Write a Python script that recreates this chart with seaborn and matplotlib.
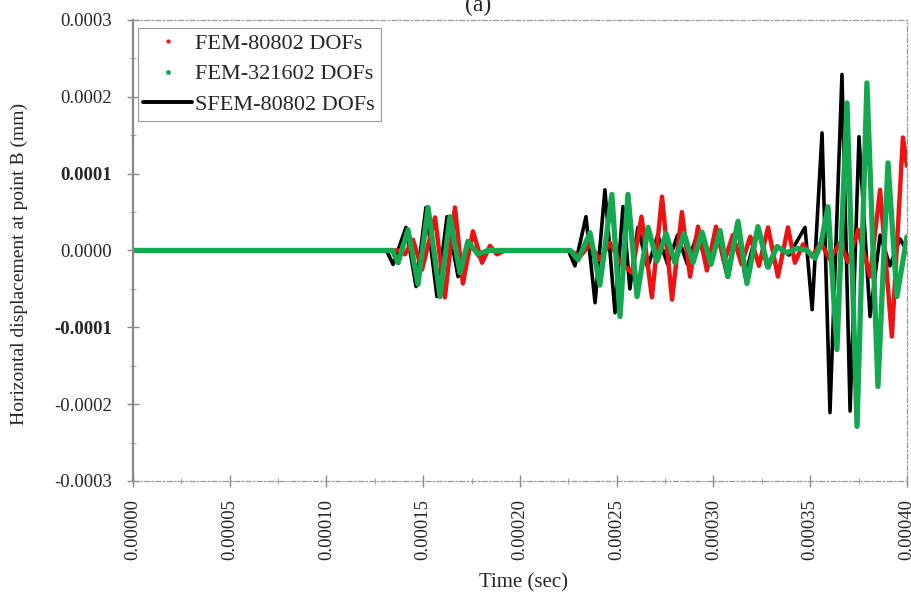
import numpy as np
import pandas as pd
import matplotlib
matplotlib.use("Agg")
import matplotlib.pyplot as plt
from matplotlib.lines import Line2D
from matplotlib.ticker import MultipleLocator
import seaborn as sns

# time in microseconds, displacement in 1e-6 mm
fem80802_t = [0, 138, 140.6, 144.7, 149.4, 156.1, 161.2, 166.4, 170.5, 175.7,
              180.4, 184.5, 188.1, 192.2, 226, 231, 236.2, 241.3, 246.5, 251.7,
              257.9, 262.8, 268.2, 273.4, 278.6, 283.7, 287.9, 292, 296.6, 301.3,
              305.5, 310, 314.5, 319, 323.5, 328.2, 333.3, 338.5, 342.1, 346.3,
              351, 355.5, 360.2, 365.4, 369.5, 374.7, 380.9, 386.1, 392.2, 397.9, 400]
fem80802_u = [0, 0, -5, 14, -25, 43, -61, 56, -43, 25,
              -16, 6, -5, 0, 0, -8, 8, -12, 10, -15,
              -29, 44, -61, 70, -64, 50, -34, 31, -26, 31,
              -15, 20, -18, 18, -20, 30, -34, 30, -16, 8,
              -8, 10, -12, 10, -15, 27, -34, 79, -112, 147, 110]

fem321602_t = [0, 134, 137, 142.1, 147.3, 152.5, 158.7, 163.8, 169, 173.1,
               178.3, 183.5, 226, 230, 236.2, 241.3, 247.5, 251.7, 255.8, 260.5,
               266.2, 270.8, 275.5, 280.1, 284.8, 289.4, 294.1, 298.7, 303.4, 307.5,
               312.7, 317.3, 323, 328.2, 332.8, 338, 343.2, 348.3, 352.5, 355.5,
               359.2, 363.8, 369, 374.2, 379.3, 385, 390.2, 394.8, 400]
fem321602_u = [0, 0, -16, 27, -44, 56, -60, 44, -29, 12,
               -5, 0, 0, -12, 23, -45, 73, -86, 73, -60,
               30, -14, 22, -16, 22, -16, 24, -18, 26, -34,
               38, -43, 31, -22, 5, -3, 3, 0, -10, 8,
               57, -129, 192, -229, 218, -177, 114, -60, 18]

sfem_t = [0, 131, 134.4, 141.1, 146.3, 151.4, 157.1, 162.3, 168, 173.6,
          178.8, 184, 225, 228.4, 234.1, 238.8, 243.9, 249.1, 253.2, 256.8,
          260.9, 266, 271.2, 276.3, 281.4, 286.5, 291.7, 296.8, 301.9, 307.1,
          312.2, 316.3, 323, 327.6, 333, 339, 347.3, 351, 356.1, 360.2,
          366.4, 370.6, 375.2, 380.9, 386.1, 391.2, 396.4, 400]
sfem_u = [0, 0, -18, 30, -47, 56, -60, 44, -34, 10,
          -8, 0, 0, -20, 44, -68, 79, -81, 57, -50,
          30, -22, 20, -18, 20, -18, 22, -20, 24, -34,
          36, -34, 31, -21, 6, -6, 30, -77, 153, -211,
          229, -209, 148, -86, 20, -20, 15, 0]

xtick_labels = ["0.00000", "0.00005", "0.00010", "0.00015", "0.00020",
                "0.00025", "0.00030", "0.00035", "0.00040"]
ytick_labels = ["-0.0003", "-0.0002", "-0.0001", "0.0000", "0.0001", "0.0002", "0.0003"]

def makeFrame(t, u):
    return pd.DataFrame({"time": np.array(t) * 1e-6, "disp": np.array(u) * 1e-6})

sns.set_style("white")
plt.rcParams["font.family"] = ["Liberation Serif", "DejaVu Serif"]

fig = plt.figure(figsize=(9.12, 5.98), dpi=100)
ax = fig.add_axes([0.1458, 0.1957, 0.8487, 0.7709])

sns.lineplot(data=makeFrame(sfem_t, sfem_u), x="time", y="disp", ax=ax,
             color="black", linewidth=2.6, estimator=None, sort=False)
sns.lineplot(data=makeFrame(fem80802_t, fem80802_u), x="time", y="disp", ax=ax,
             color="#ee1111", linewidth=3.2, estimator=None, sort=False)
sns.lineplot(data=makeFrame(fem321602_t, fem321602_u), x="time", y="disp", ax=ax,
             color="#14a850", linewidth=3.8, estimator=None, sort=False)

ax.set_xlim(0, 0.0004)
ax.set_ylim(-0.0003, 0.0003)
xt = [float(s) for s in xtick_labels]
yt = [float(s) for s in ytick_labels]
ax.set_xticks(xt)
ax.set_xticklabels(xtick_labels, rotation=90, fontsize=13.5)
ax.set_yticks(yt)
ax.set_yticklabels(ytick_labels, fontsize=13.5)
for lab in ax.get_yticklabels():
    if lab.get_text() in ("0.0001", "-0.0001"):
        lab.set_fontweight("bold")
ax.xaxis.set_minor_locator(MultipleLocator(0.000025))
ax.yaxis.set_minor_locator(MultipleLocator(0.00005))
ax.tick_params(axis="both", which="major", direction="inout", length=8,
               color="#888888", width=1)
ax.tick_params(axis="y", which="major", pad=11)
ax.tick_params(axis="x", which="major", pad=9)
ax.tick_params(axis="both", which="minor", direction="inout", length=5,
               color="#aaaaaa", width=0.8)
ax.tick_params(axis="x", which="both", bottom=True)
ax.tick_params(axis="y", which="both", left=True)

ax.spines["left"].set_color("#888888")
ax.spines["left"].set_linewidth(1.6)
for side in ("top", "right", "bottom"):
    ax.spines[side].set_visible(True)
    ax.spines[side].set_color("#999999")
    ax.spines[side].set_linewidth(0.9)
    ax.spines[side].set_linestyle((0, (4, 2, 1, 2)))

ax.set_xlabel("Time (sec)", fontsize=15)
ax.xaxis.set_label_coords(0.504, -0.2)
ax.set_ylabel("Horizontal displacement at point B (mm)", fontsize=14)
ax.yaxis.set_label_coords(-0.136, 0.47)

handles = [
    Line2D([], [], color="#ee1111", marker=".", linestyle="none", markersize=4),
    Line2D([], [], color="#14a850", marker=".", linestyle="none", markersize=5),
    Line2D([], [], color="black", linewidth=2.8),
]
labels = ["FEM-80802 DOFs", "FEM-321602 DOFs", "SFEM-80802 DOFs"]
leg = ax.legend(handles, labels, loc="upper left", fontsize=16, frameon=True,
                fancybox=False, bbox_to_anchor=(0.006, 0.983), borderaxespad=0,
                handlelength=2.2, labelspacing=0.45, borderpad=0.25,
                handletextpad=0.15)
leg.get_frame().set_edgecolor("#999999")
leg.get_frame().set_linewidth(0.8)
leg.get_frame().set_alpha(1.0)

fig.text(0.524, 1 - 5 / 598, "(a)", ha="center", va="center", fontsize=17)

fig.savefig("out.png", dpi=100)
